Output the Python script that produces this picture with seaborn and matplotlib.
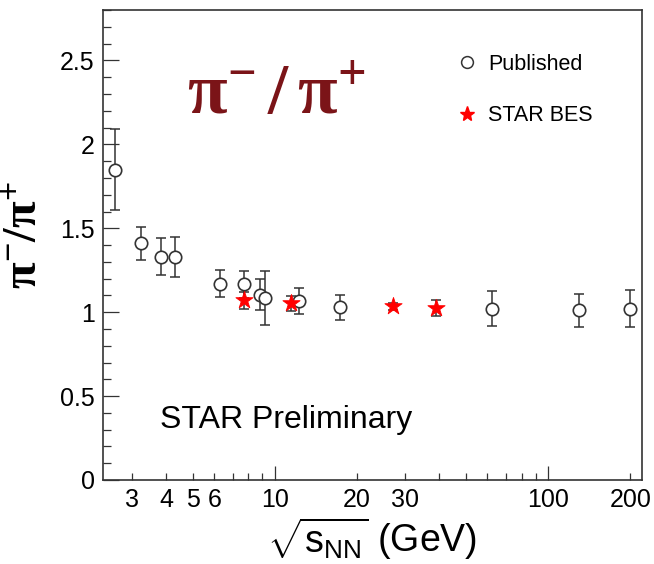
import numpy as np
import pandas as pd
import seaborn as sns
import matplotlib
matplotlib.use("Agg")
import matplotlib.pyplot as plt
from matplotlib.lines import Line2D

# ---- data ----
pub_energy = [2.6, 3.25, 3.84, 4.32, 6.3, 7.7, 8.8, 9.2, 12.3, 17.3, 62.4, 130, 200]
pub_ratio = [1.85, 1.41, 1.33, 1.33, 1.17, 1.165, 1.105, 1.085, 1.065, 1.03, 1.02, 1.01, 1.02]
pub_err = [0.24, 0.10, 0.11, 0.12, 0.08, 0.08, 0.09, 0.16, 0.077, 0.075, 0.105, 0.10, 0.11]

bes_energy = [7.7, 11.5, 27, 39]
bes_ratio = [1.07, 1.054, 1.034, 1.025]
bes_err = [0.05, 0.045, 0.02, 0.05]

x_major = [10, 100]
x_labeled_minor = {3: "3", 4: "4", 5: "5", 6: "6", 20: "20", 30: "30", 200: "200"}
y_major = [0, 0.5, 1, 1.5, 2, 2.5]
y_major_labels = ["0", "0.5", "1", "1.5", "2", "2.5"]

sns.set_style("ticks")
plt.rcParams["font.family"] = ["Liberation Sans", "DejaVu Sans"]
plt.rcParams["mathtext.fontset"] = "custom"
plt.rcParams["mathtext.rm"] = "Liberation Sans"
plt.rcParams["mathtext.it"] = "Liberation Sans:italic"
plt.rcParams["mathtext.bf"] = "Liberation Serif:bold"
plt.rcParams["text.color"] = "black"
plt.rcParams["axes.labelcolor"] = "black"
plt.rcParams["xtick.color"] = "#333333"
plt.rcParams["ytick.color"] = "#333333"
plt.rcParams["xtick.labelcolor"] = "black"
plt.rcParams["ytick.labelcolor"] = "black"

fig = plt.figure(figsize=(6.54, 5.64), dpi=100)
ax = fig.add_axes([0.1575, 0.149, 0.8235, 0.833])

pub = pd.DataFrame({"energy": pub_energy, "ratio": pub_ratio, "err": pub_err})
bes = pd.DataFrame({"energy": bes_energy, "ratio": bes_ratio, "err": bes_err})

ax.errorbar(pub["energy"], pub["ratio"], yerr=pub["err"], fmt="none",
            ecolor="#333333", elinewidth=1.1, capsize=3.5, capthick=1.1, zorder=2)
sns.scatterplot(data=pub, x="energy", y="ratio", ax=ax, marker="o", s=80,
                color="white", edgecolor="#333333", linewidth=1.2, zorder=3)
ax.errorbar(bes["energy"], bes["ratio"], yerr=bes["err"], fmt="none",
            ecolor="#333333", elinewidth=1.1, capsize=3.5, capthick=1.1, zorder=4)
sns.scatterplot(data=bes, x="energy", y="ratio", ax=ax, marker="*", s=170,
                color="red", edgecolor="red", linewidth=0.6, zorder=5)

ax.set_xscale("log")
ax.set_xlim(2.35, 220)
ax.set_ylim(0, 2.8)

# x ticks
ax.xaxis.set_major_locator(matplotlib.ticker.FixedLocator(x_major))
ax.xaxis.set_major_formatter(matplotlib.ticker.FixedFormatter([str(v) for v in x_major]))
minors = [m * d for d in (1, 10, 100) for m in range(2, 10) if 2.35 <= m * d <= 220 and m * d not in x_major]
ax.xaxis.set_minor_locator(matplotlib.ticker.FixedLocator(minors))
ax.xaxis.set_minor_formatter(matplotlib.ticker.FixedFormatter([x_labeled_minor.get(v, "") for v in minors]))

# y ticks
ax.set_yticks(y_major)
ax.set_yticklabels(y_major_labels)
ax.set_yticks(np.arange(0, 2.81, 0.1), minor=True)

ax.tick_params(axis="x", which="major", direction="in", length=10, width=0.9,
               labelsize=18, pad=6, top=False)
ax.tick_params(axis="x", which="minor", direction="in", length=5, width=0.9,
               labelsize=18, pad=6, top=False)
ax.tick_params(axis="y", which="major", direction="in", length=11.5, width=0.9,
               labelsize=18, pad=6, right=False)
ax.tick_params(axis="y", which="minor", direction="in", length=5.8, width=0.9, right=False)

for s in ax.spines.values():
    s.set_color("#333333")
    s.set_linewidth(1.2)

ax.set_xlabel(r"$\sqrt{\mathrm{s}_{\mathrm{NN}}}$ (GeV)", fontsize=27, labelpad=2)
ax.set_ylabel(r"$\mathbf{\pi^{-}/\pi^{+}}$", fontsize=35)
ax.yaxis.set_label_coords(-0.105, 0.52)

ax.text(0.156, 0.779, r"$\mathbf{\pi^{-}\,/\,\pi^{+}}$", transform=ax.transAxes,
        fontsize=52, color="#7b1418", ha="left", va="baseline")
ax.text(0.106, 0.110, "STAR Preliminary", transform=ax.transAxes,
        fontsize=23, color="black", ha="left", va="baseline")

handles = [
    Line2D([], [], linestyle="none", marker="o", markersize=8.5,
           markerfacecolor="white", markeredgecolor="#333333", markeredgewidth=1.1),
    Line2D([], [], linestyle="none", marker="*", markersize=11,
           markerfacecolor="red", markeredgecolor="red"),
]
ax.legend(handles, ["Published", "STAR BES"], loc="upper left",
          bbox_to_anchor=(456.6 / 654, 1 - 54 / 564), bbox_transform=fig.transFigure,
          frameon=False, fontsize=15.5, handlelength=1.0, handletextpad=0.45,
          labelspacing=1.4, borderpad=0, borderaxespad=0)

fig.savefig("out.png", dpi=100)
